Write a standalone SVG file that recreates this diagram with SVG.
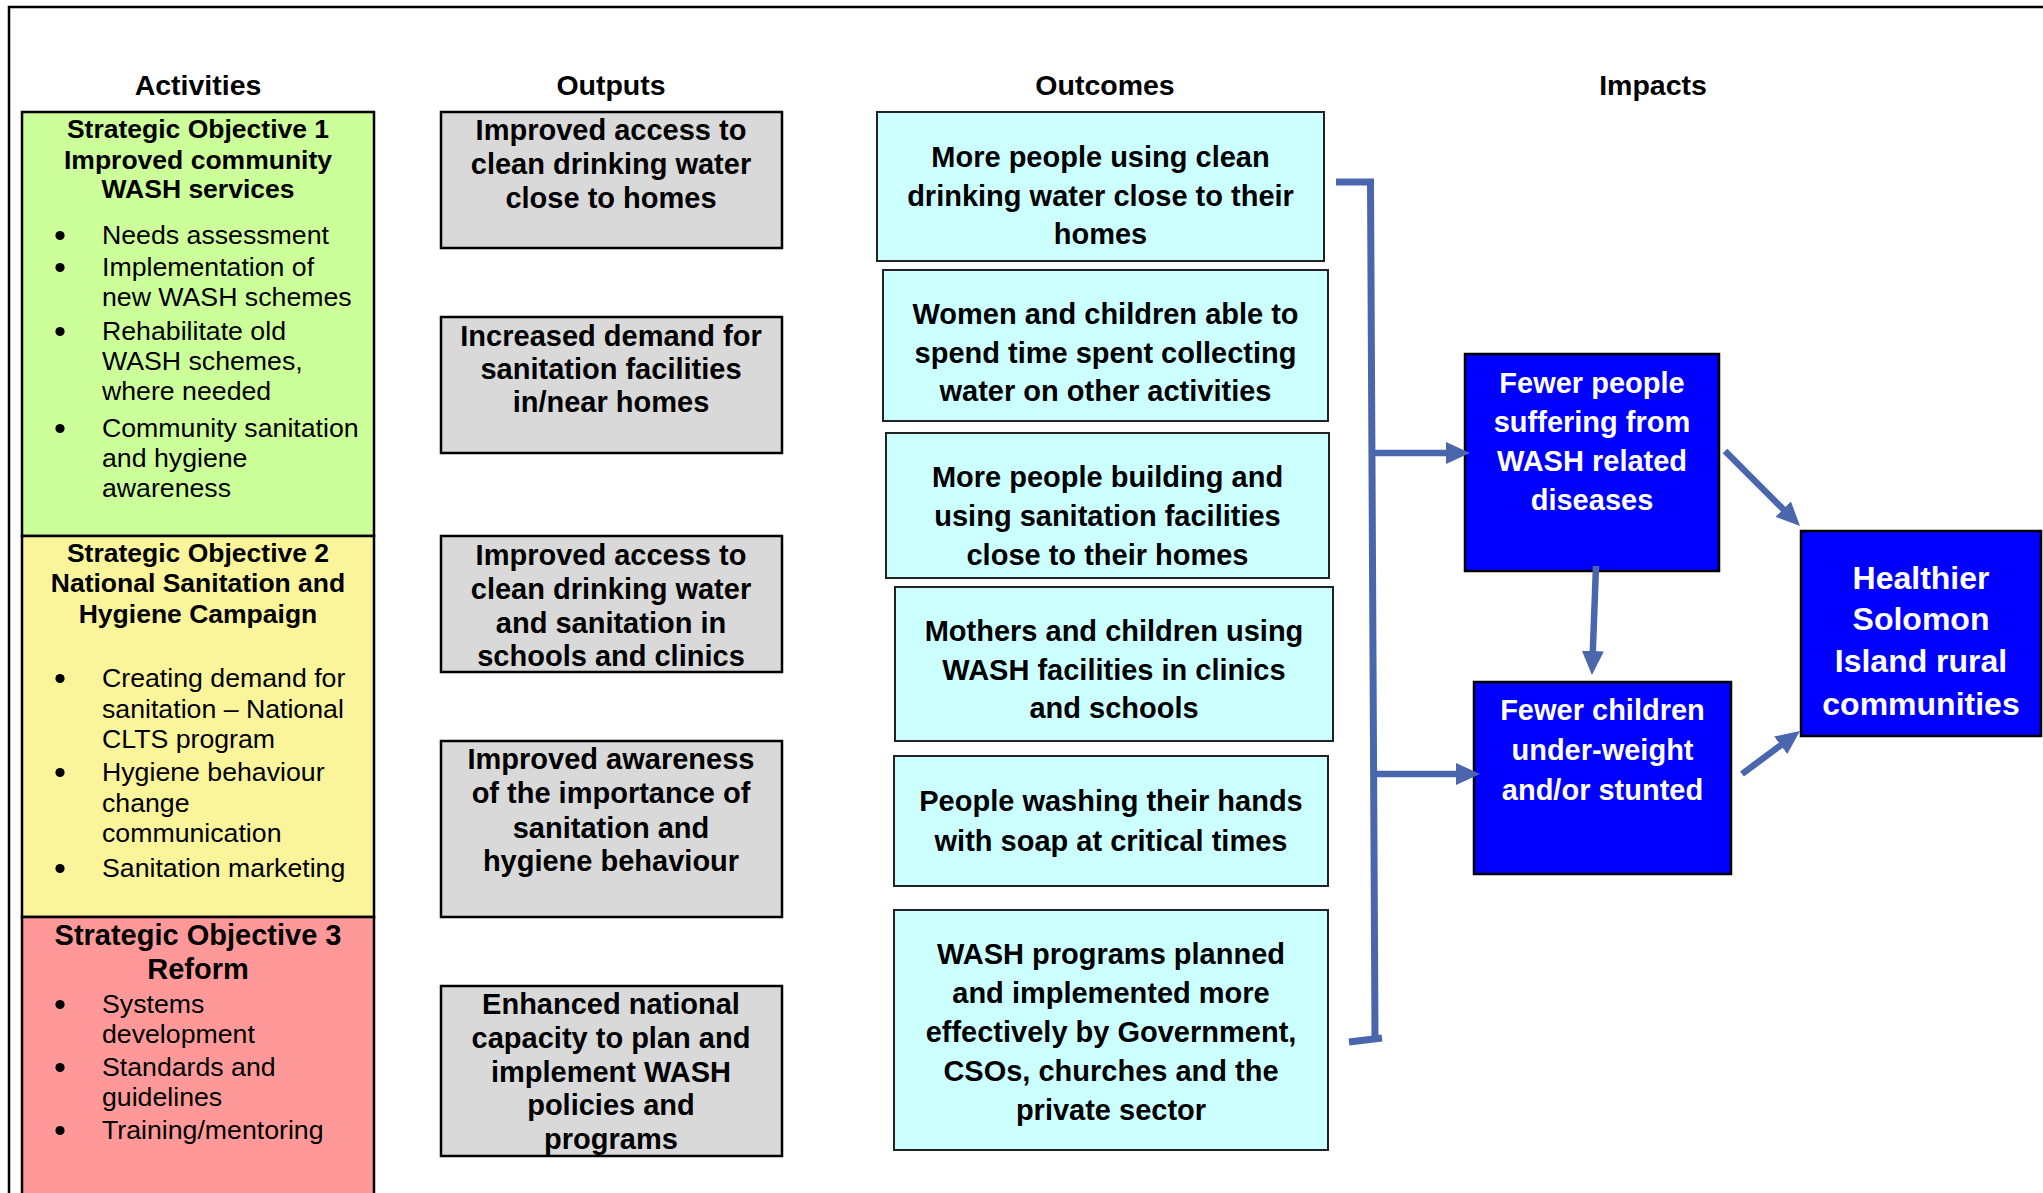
<svg xmlns="http://www.w3.org/2000/svg" width="2043" height="1193" viewBox="0 0 2043 1193">
<defs>
<style>
text{font-family:"Liberation Sans",Arial,Helvetica,sans-serif;fill:#000}
.hdr{font-size:28.5px;font-weight:bold;text-anchor:middle}
.ttl{font-size:26.5px;font-weight:bold;text-anchor:middle}
.ttl3{font-size:29px;font-weight:bold;text-anchor:middle}
.itm{font-size:26.7px}
.out{font-size:29px;font-weight:bold;text-anchor:middle}
.imp{font-size:29px;font-weight:bold;text-anchor:middle;fill:#fff}
.imp3{font-size:32px;font-weight:bold;text-anchor:middle;fill:#fff}
.act{stroke:#000;stroke-width:2.5}
.gray{fill:#D9D9D9;stroke:#000;stroke-width:2.5}
.cyan{fill:#CCFFFF;stroke:#222;stroke-width:2}
.blue{fill:#0000FF;stroke:#000;stroke-width:2.5}
.con{fill:none;stroke:#4A66AC;stroke-width:7}
.arr{fill:none;stroke:#4A66AC;stroke-width:6.5}
.bul{fill:#000}
</style>
<marker id="ah" viewBox="0 0 24 22" refX="4" refY="11" markerWidth="24" markerHeight="22" markerUnits="userSpaceOnUse" orient="auto">
<path d="M0,0 L24,11 L0,22 z" fill="#4A66AC"/>
</marker>
</defs>
<rect x="0" y="0" width="2043" height="1193" fill="#fff"/>
<g id="frame">
<path d="M9,1193 L9,7 L2043,7" fill="none" stroke="#000" stroke-width="2.5"/>
</g>
<g id="headers">
<text class="hdr" x="198" y="95">Activities</text>
<text class="hdr" x="611" y="95">Outputs</text>
<text class="hdr" x="1105" y="95">Outcomes</text>
<text class="hdr" x="1653" y="95">Impacts</text>
</g>
<g id="so1">
<rect class="act" x="22" y="112" width="352" height="424" fill="#CCFF99"/>
<text class="ttl" x="198" y="138">Strategic Objective 1</text>
<text class="ttl" x="198" y="168.5">Improved community</text>
<text class="ttl" x="198" y="198">WASH services</text>
<circle class="bul" cx="60" cy="235.5" r="4.6"/>
<text class="itm" x="102" y="244">Needs assessment</text>
<circle class="bul" cx="60" cy="267.5" r="4.6"/>
<text class="itm" x="102" y="276">Implementation of</text>
<text class="itm" x="102" y="306">new WASH schemes</text>
<circle class="bul" cx="60" cy="331.5" r="4.6"/>
<text class="itm" x="102" y="340">Rehabilitate old</text>
<text class="itm" x="102" y="370">WASH schemes,</text>
<text class="itm" x="102" y="400">where needed</text>
<circle class="bul" cx="60" cy="428.5" r="4.6"/>
<text class="itm" x="102" y="437">Community sanitation</text>
<text class="itm" x="102" y="467">and hygiene</text>
<text class="itm" x="102" y="497">awareness</text>
</g>
<g id="so2">
<rect class="act" x="22" y="536" width="352" height="381" fill="#FAF59B"/>
<text class="ttl" x="198" y="562">Strategic Objective 2</text>
<text class="ttl" x="198" y="592">National Sanitation and</text>
<text class="ttl" x="198" y="623">Hygiene Campaign</text>
<circle class="bul" cx="60" cy="678.5" r="4.6"/>
<text class="itm" x="102" y="687">Creating demand for</text>
<text class="itm" x="102" y="718">sanitation – National</text>
<text class="itm" x="102" y="748">CLTS program</text>
<circle class="bul" cx="60" cy="772.5" r="4.6"/>
<text class="itm" x="102" y="781">Hygiene behaviour</text>
<text class="itm" x="102" y="812">change</text>
<text class="itm" x="102" y="842">communication</text>
<circle class="bul" cx="60" cy="868.5" r="4.6"/>
<text class="itm" x="102" y="877">Sanitation marketing</text>
</g>
<g id="so3">
<rect class="act" x="22" y="917" width="352" height="290" fill="#FF9999"/>
<text class="ttl3" x="198" y="945">Strategic Objective 3</text>
<text class="ttl3" x="198" y="979">Reform</text>
<circle class="bul" cx="60" cy="1004.5" r="4.6"/>
<text class="itm" x="102" y="1013">Systems</text>
<text class="itm" x="102" y="1043">development</text>
<circle class="bul" cx="60" cy="1067.5" r="4.6"/>
<text class="itm" x="102" y="1076">Standards and</text>
<text class="itm" x="102" y="1106">guidelines</text>
<circle class="bul" cx="60" cy="1130.5" r="4.6"/>
<text class="itm" x="102" y="1139">Training/mentoring</text>
</g>
<g id="output1">
<rect class="gray" x="441" y="112" width="341" height="136"/>
<text class="out" x="611" y="140">Improved access to</text>
<text class="out" x="611" y="174">clean drinking water</text>
<text class="out" x="611" y="208">close to homes</text>
</g>
<g id="output2">
<rect class="gray" x="441" y="317" width="341" height="136"/>
<text class="out" x="611" y="345.5">Increased demand for</text>
<text class="out" x="611" y="379">sanitation facilities</text>
<text class="out" x="611" y="412">in/near homes</text>
</g>
<g id="output3">
<rect class="gray" x="441" y="536" width="341" height="136"/>
<text class="out" x="611" y="565">Improved access to</text>
<text class="out" x="611" y="599">clean drinking water</text>
<text class="out" x="611" y="632.5">and sanitation in</text>
<text class="out" x="611" y="666">schools and clinics</text>
</g>
<g id="output4">
<rect class="gray" x="441" y="741" width="341" height="176"/>
<text class="out" x="611" y="769">Improved awareness</text>
<text class="out" x="611" y="803">of the importance of</text>
<text class="out" x="611" y="837.5">sanitation and</text>
<text class="out" x="611" y="871">hygiene behaviour</text>
</g>
<g id="output5">
<rect class="gray" x="441" y="986" width="341" height="170"/>
<text class="out" x="611" y="1014">Enhanced national</text>
<text class="out" x="611" y="1048">capacity to plan and</text>
<text class="out" x="611" y="1082">implement WASH</text>
<text class="out" x="611" y="1115">policies and</text>
<text class="out" x="611" y="1149">programs</text>
</g>
<g id="outcome1">
<rect class="cyan" x="877" y="112" width="447" height="149"/>
<text class="out" x="1100.5" y="167">More people using clean</text>
<text class="out" x="1100.5" y="206">drinking water close to their</text>
<text class="out" x="1100.5" y="244">homes</text>
</g>
<g id="outcome2">
<rect class="cyan" x="883" y="270" width="445" height="151"/>
<text class="out" x="1105.5" y="324">Women and children able to</text>
<text class="out" x="1105.5" y="363">spend time spent collecting</text>
<text class="out" x="1105.5" y="401">water on other activities</text>
</g>
<g id="outcome3">
<rect class="cyan" x="886" y="433" width="443" height="145"/>
<text class="out" x="1107.5" y="487">More people building and</text>
<text class="out" x="1107.5" y="526">using sanitation facilities</text>
<text class="out" x="1107.5" y="565">close to their homes</text>
</g>
<g id="outcome4">
<rect class="cyan" x="895" y="587" width="438" height="154"/>
<text class="out" x="1114" y="641">Mothers and children using</text>
<text class="out" x="1114" y="680">WASH facilities in clinics</text>
<text class="out" x="1114" y="718">and schools</text>
</g>
<g id="outcome5">
<rect class="cyan" x="894" y="756" width="434" height="130"/>
<text class="out" x="1111" y="811">People washing their hands</text>
<text class="out" x="1111" y="851">with soap at critical times</text>
</g>
<g id="outcome6">
<rect class="cyan" x="894" y="910" width="434" height="240"/>
<text class="out" x="1111" y="964">WASH programs planned</text>
<text class="out" x="1111" y="1003">and implemented more</text>
<text class="out" x="1111" y="1042">effectively by Government,</text>
<text class="out" x="1111" y="1081">CSOs, churches and the</text>
<text class="out" x="1111" y="1120">private sector</text>
</g>
<g id="impact1">
<rect class="blue" x="1465" y="354" width="254" height="217"/>
<text class="imp" x="1592" y="393">Fewer people</text>
<text class="imp" x="1592" y="432">suffering from</text>
<text class="imp" x="1592" y="471">WASH related</text>
<text class="imp" x="1592" y="510">diseases</text>
</g>
<g id="impact2">
<rect class="blue" x="1474" y="682" width="257" height="192"/>
<text class="imp" x="1602.5" y="720">Fewer children</text>
<text class="imp" x="1602.5" y="760">under-weight</text>
<text class="imp" x="1602.5" y="800">and/or stunted</text>
</g>
<g id="impact3">
<rect class="blue" x="1801" y="531" width="240" height="205"/>
<text class="imp3" x="1921" y="589">Healthier</text>
<text class="imp3" x="1921" y="630">Solomon</text>
<text class="imp3" x="1921" y="672">Island rural</text>
<text class="imp3" x="1921" y="715">communities</text>
</g>
<g id="connectors">
<path class="con" d="M1336,182 L1370.5,182 L1375,1039"/>
<path class="con" d="M1349,1042 L1382,1038"/>
<path class="arr" d="M1373,453 L1450,453" marker-end="url(#ah)"/>
<path class="arr" d="M1375,774 L1460,774" marker-end="url(#ah)"/>
<path class="arr" d="M1596,566 L1592.7,655" marker-end="url(#ah)"/>
<path class="arr" d="M1725,451 L1785.9,511.9" marker-end="url(#ah)"/>
<path class="arr" d="M1742,774 L1783.9,742.9" marker-end="url(#ah)"/>
</g>
</svg>
